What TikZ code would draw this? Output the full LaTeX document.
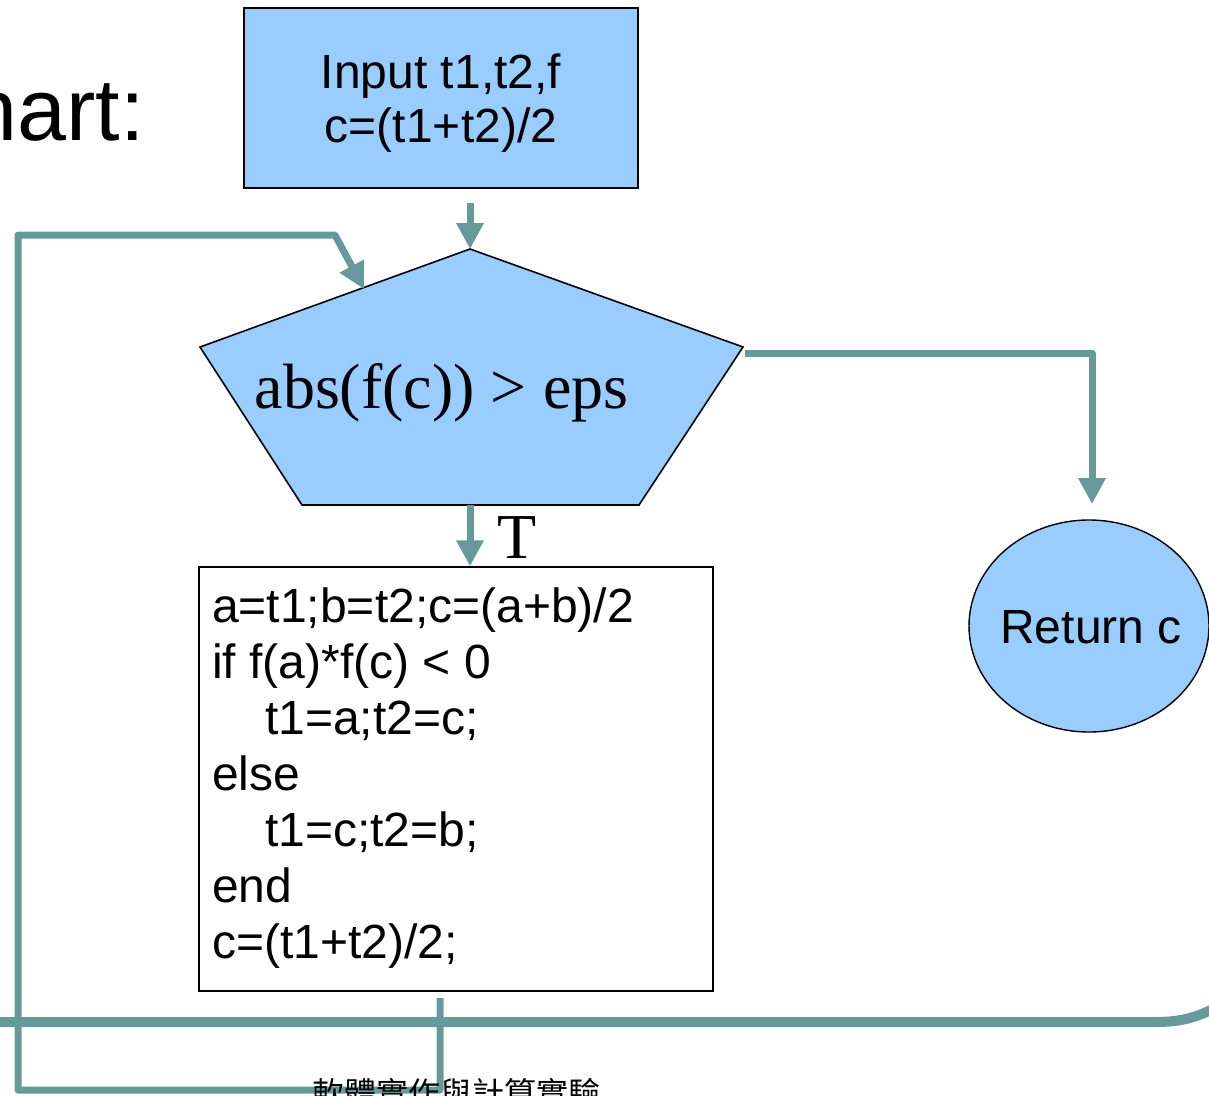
\documentclass[tikz,border=0pt]{standalone}
\usepackage{fontspec}
\setmainfont{Liberation Sans}
\newfontfamily\timesf{Liberation Serif}
\newfontfamily\cjk{Noto Sans CJK TC}
\usetikzlibrary{arrows.meta,calc,shapes.geometric}
\definecolor{tealc}{HTML}{669999}
\definecolor{fillblue}{HTML}{99CCFF}
\begin{document}
\begin{tikzpicture}[x=1pt,y=-1pt,
  conn/.style={draw=tealc, line width=7pt, line join=round,
    -{Triangle[length=26pt,width=26pt]}},
  band/.style={draw=tealc, line width=10pt},
  bluebox/.style={draw=black, line width=1.6pt, fill=fillblue, inner sep=0pt},
  codebox/.style={draw=black, line width=1.4pt, fill=white, inner sep=0pt},
  sans48/.style={font=\fontsize{48}{54}\selectfont, inner sep=0pt},
  codeline/.style={font=\fontsize{48}{56}\selectfont, inner sep=0pt, anchor=base west},
  serif64/.style={font=\timesf\fontsize{64}{70}\selectfont, inner sep=0pt, anchor=base}]
\useasboundingbox (0,0) rectangle (1209,1095);
\clip (0,0) rectangle (1209,1095);

% title fragment
\node[font=\fontsize{88}{100}\selectfont, inner sep=0pt, anchor=base east] (title) at (145,140) {hart:};

% slide band
\draw[band] (-10,1022) -- (1155,1022) .. controls (1180,1022) and (1195,1018) .. (1215,1008);

% input box
\node[bluebox, minimum width=394pt, minimum height=180pt] (in) at (441,98) {};
\node[sans48, align=center] (intext) at (441,103) {Input t1,t2,f\\c=(t1+t2)/2};

% pentagon
\coordinate (p1) at (470,249);
\coordinate (p2) at (743,347);
\coordinate (p3) at (639,505);
\coordinate (p4) at (302,505);
\coordinate (p5) at (200,347);
\draw[black, line width=1.6pt, fill=fillblue, line join=miter] (p1) -- (p2) -- (p3) -- (p4) -- (p5) -- cycle;
\node[serif64] (cond) at (441.5,408) {abs(f(c)) > eps};

% code box
\node[codebox, minimum width=514pt, minimum height=424pt] (code) at (456,779) {};
\node[codeline] (c1) at (212,622) {a=t1;b=t2;c=(a+b)/2};
\node[codeline] (c2) at (212,678) {if f(a)*f(c) < 0};
\node[codeline] (c3) at (265,734) {t1=a;t2=c;};
\node[codeline] (c4) at (212,790) {else};
\node[codeline] (c5) at (265,846) {t1=c;t2=b;};
\node[codeline] (c6) at (212,902) {end};
\node[codeline] (c7) at (212,958) {c=(t1+t2)/2;};

% return ellipse
\node[ellipse, draw=black, line width=1.4pt, fill=fillblue, minimum width=240pt, minimum height=212pt, inner sep=0pt] (ret) at (1089,626) {};
\node[font=\fontsize{48}{54}\selectfont, inner sep=0pt, anchor=base] (rettext) at (1091,643) {Return c};

% connectors
\coordinate (s1) at (470,203);
\draw[conn] (s1) -- (p1);

\coordinate (pb) at (470,505);
\draw[conn] (pb) -- (pb |- code.north);
\node[serif64] (tlab) at (517,558) {T};

\coordinate (pr) at (745,353);
\coordinate (rtop) at (1092,504);
\draw[conn] (pr) -- (rtop |- pr) -- (rtop);

\coordinate (lb) at (440,998);
\coordinate (lt) at (364,289);
\draw[conn] (lb) -- (440,1090) -- (18,1090) -- (18,235) -- (335,235) -- (lt);

% footer
\node[font=\cjk\fontsize{32}{36}\selectfont, inner sep=0pt, anchor=base] (footer) at (456,1105) {軟體實作與計算實驗};
\end{tikzpicture}
\end{document}
